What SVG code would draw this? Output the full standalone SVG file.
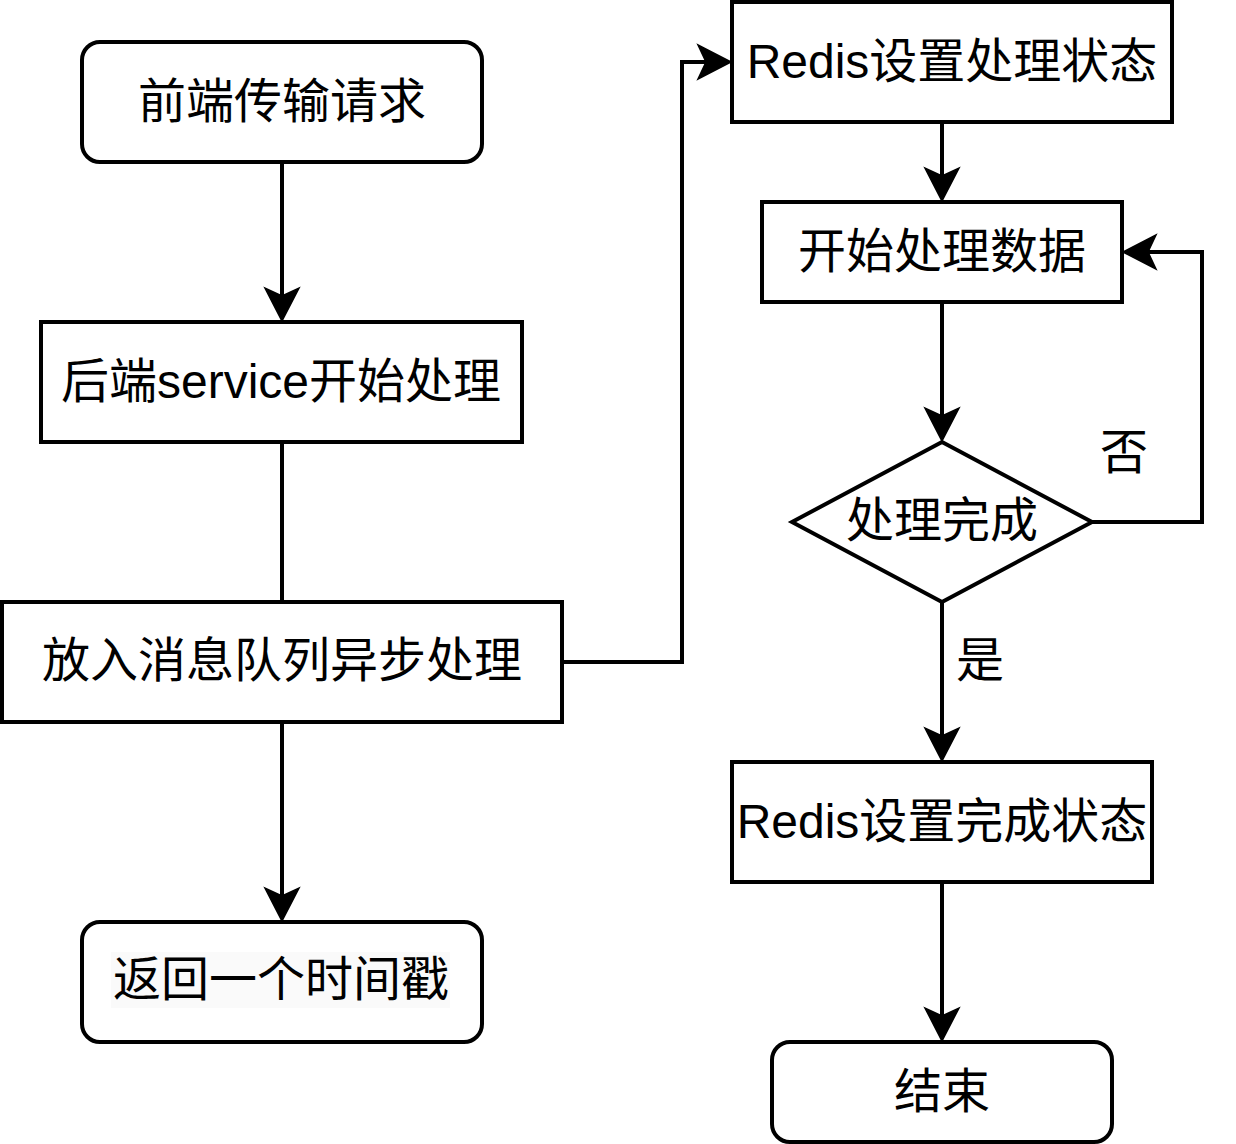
<svg xmlns="http://www.w3.org/2000/svg" width="1236" height="1144" viewBox="0 0 1236 1144">
<style>
.box{fill:#fff;stroke:#000;stroke-width:4}
.t{font-family:"Liberation Sans","Noto Sans CJK SC",sans-serif;font-size:48px;fill:#000;text-anchor:middle}
.c{fill:none;stroke:#000;stroke-width:4}
</style>
<defs>
<marker id="ah" markerUnits="userSpaceOnUse" viewBox="-36 -20 40 40" markerWidth="40" markerHeight="40" refX="-25" refY="0" orient="auto">
<path d="M0,0 L-33,-17 L-25,0 L-33,17 Z" fill="#000" stroke="#000" stroke-width="1.5" stroke-linejoin="miter"/>
</marker>
</defs>
<rect width="1236" height="1144" fill="#fff"/>
<g id="connectors">
<path class="c" d="M282,162 V296" marker-end="url(#ah)"/>
<path class="c" d="M282,442 V602"/>
<path class="c" d="M282,722 V896" marker-end="url(#ah)"/>
<path class="c" d="M562,662 H682 V62 H706" marker-end="url(#ah)"/>
<path class="c" d="M942,122 V176" marker-end="url(#ah)"/>
<path class="c" d="M942,302 V416" marker-end="url(#ah)"/>
<path class="c" d="M1092,522 H1202 V252 H1148" marker-end="url(#ah)"/>
<path class="c" d="M942,602 V736" marker-end="url(#ah)"/>
<path class="c" d="M942,882 V1016" marker-end="url(#ah)"/>
<text class="t" x="1124" y="469">否</text>
<text class="t" x="980" y="677">是</text>
</g>
<g id="n1"><rect class="box" x="82" y="42" width="400" height="120" rx="18"/><text class="t" x="282" y="118">前端传输请求</text></g>
<g id="n2"><rect class="box" x="41" y="322" width="481" height="120"/><text class="t" x="281" y="398">后端service开始处理</text></g>
<g id="n3"><rect class="box" x="2" y="602" width="560" height="120"/><text class="t" x="282" y="677">放入消息队列异步处理</text></g>
<g id="n4"><rect class="box" x="82" y="922" width="400" height="120" rx="18"/><rect x="111" y="952" width="339" height="56" fill="#fafafa"/><text class="t" x="281" y="996">返回一个时间戳</text></g>
<g id="n5"><rect class="box" x="732" y="2" width="440" height="120"/><text class="t" x="952" y="78">Redis设置处理状态</text></g>
<g id="n6"><rect class="box" x="762" y="202" width="360" height="100"/><text class="t" x="942" y="268">开始处理数据</text></g>
<g id="n7"><path class="box" d="M792,522 L942,442 L1092,522 L942,602 Z"/><text class="t" x="942" y="537">处理完成</text></g>
<g id="n8"><rect class="box" x="732" y="762" width="420" height="120"/><text class="t" x="942" y="838">Redis设置完成状态</text></g>
<g id="n9"><rect class="box" x="772" y="1042" width="340" height="100" rx="18"/><text class="t" x="942" y="1108">结束</text></g>
</svg>
